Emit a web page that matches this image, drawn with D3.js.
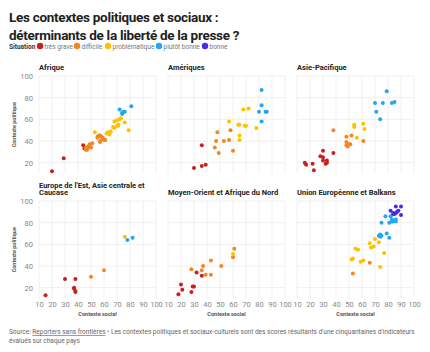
<!DOCTYPE html>
<html>
<head>
<meta charset="utf-8">
<script src="https://cdn.jsdelivr.net/npm/d3@7"></script>
<style>
  body { margin: 0; background: #fff; font-family: Roboto, "Noto Sans", sans-serif; }
  .tick text { fill: #888; }
</style>
</head>
<body>
<div id="chart"></div>
<script>
// situations (legend order) and their colours
var situations = ["très grave", "difficile", "problématique", "plutôt bonne", "bonne"];
var colors = ["#c8201f", "#f5861f", "#fcc200", "#22a7f0", "#4a2ae8"];

var regions = ["Afrique", "Amériques", "Asie-Pacifique",
  "Europe de l'Est, Asie centrale et Caucase", "Moyen-Orient et Afrique du Nord", "Union Européenne et Balkans"];

// [contexte social, contexte politique, situation index]
var afrique = [
  [20, 12, 0], [29, 24, 0], [44, 36, 0], [45, 33, 0],
  [46, 34, 1], [47, 32, 1], [48, 34, 1], [48, 35, 1], [49, 37, 1], [50, 34, 1], [51, 38, 1], [46, 32, 1],
  [55, 44, 1], [56, 45, 1], [57, 45, 1], [58, 44, 1], [59, 42, 1], [60, 41, 1], [61, 41, 1], [57, 40, 1], [57, 39, 1], [55, 43, 1], [59, 43, 1],
  [53, 48, 2], [62, 47, 2], [63, 48, 2], [64, 47, 2], [64, 46, 2], [65, 48, 2], [67, 53, 2], [68, 52, 2],
  [70, 54, 2], [71, 55, 2], [68, 58, 2], [70, 59, 2], [72, 60, 2], [73, 61, 2], [76, 57, 2], [71, 54, 2], [79, 50, 2], [65, 49, 2],
  [72, 69, 3], [74, 66, 3], [74, 65, 3], [75, 67, 3], [76, 67, 3], [81, 72, 3]
];
var ameriques = [
  [30, 15, 0], [36, 17, 0], [39, 18, 0], [36, 36, 0],
  [48, 48, 1], [47, 40, 1], [46, 34, 1], [49, 29, 1], [53, 40, 1], [57, 41, 1], [58, 50, 1], [60, 31, 1],
  [57, 58, 2], [64, 55, 2], [65, 55, 2], [65, 45, 2], [65, 41, 2], [69, 54, 2], [70, 54, 2], [68, 69, 2], [72, 70, 2], [78, 52, 2],
  [82, 87, 3], [82, 73, 3], [80, 67, 3], [85, 67, 3], [86, 67, 3], [82, 58, 3]
];
var asiePacifique = [
  [16, 20, 0], [17, 18, 0], [22, 19, 0], [23, 13, 0], [28, 26, 0], [30, 31, 0], [30, 25, 0], [30, 22, 0], [32, 19, 0], [33, 22, 0], [33, 20, 0], [38, 29, 0],
  [38, 50, 1], [48, 36, 1], [49, 35, 1], [50, 37, 1], [51, 37, 1], [48, 39, 1], [48, 44, 1], [52, 45, 1], [61, 40, 1],
  [54, 53, 2], [54, 55, 2], [56, 43, 2], [61, 56, 2], [62, 51, 2],
  [79, 86, 3], [70, 75, 3], [76, 75, 3], [83, 75, 3], [85, 76, 3], [71, 67, 3], [74, 60, 3]
];
var europeEst = [
  [15, 13, 0], [30, 28, 0], [38, 28, 0], [37, 20, 0], [37, 19, 0], [38, 17, 0], [38, 16, 0],
  [50, 30, 1], [60, 36, 1],
  [76, 67, 2],
  [78, 64, 3], [82, 66, 3]
];
var moyenOrient = [
  [18, 14, 0], [20, 23, 0], [21, 18, 0], [28, 16, 0], [29, 21, 0], [30, 21, 0], [32, 34, 0], [36, 31, 0],
  [28, 37, 1], [36, 36, 1], [37, 40, 1], [39, 32, 1], [43, 45, 1], [43, 32, 1], [51, 40, 1], [61, 56, 1], [60, 48, 1],
  [60, 51, 2]
];
var unionEuropeenne = [
  [53, 33, 1], [66, 43, 1],
  [55, 56, 2], [57, 55, 2], [52, 46, 2], [53, 47, 2], [59, 44, 2], [61, 45, 2], [66, 61, 2], [67, 57, 2], [69, 58, 2], [70, 65, 2], [73, 62, 2], [77, 52, 2], [74, 39, 2],
  [73, 68, 3], [74, 69, 3], [75, 68, 3], [74, 67, 3], [79, 70, 3], [81, 66, 3], [75, 80, 3], [78, 86, 3], [81, 80, 3], [82, 86, 3], [83, 83, 3], [83, 81, 3], [84, 81, 3], [86, 83, 3], [86, 81, 3],
  [82, 91, 4], [84, 89, 4], [85, 88, 4], [86, 95, 4], [87, 90, 4], [88, 91, 4], [90, 95, 4], [90, 87, 4], [84, 88, 4], [86, 89, 4]
];
var panelData = [afrique, ameriques, asiePacifique, europeEst, moyenOrient, unionEuropeenne];

var xTicks = [10, 20, 30, 40, 50, 60, 70, 80, 90, 100];
var yTicks = [20, 40, 60, 80, 100];

var W = 430, H = 352;
var svg = d3.select("#chart").append("svg")
  .attr("width", W).attr("height", H);

// title
svg.append("text").attr("x", 9).attr("y", 22)
  .style("font-size", "13.5px").style("font-weight", 700).style("fill", "#222")
  .style("letter-spacing", "-0.3px")
  .text("Les contextes politiques et sociaux :");
svg.append("text").attr("x", 9).attr("y", 40)
  .style("font-size", "13.5px").style("font-weight", 700).style("fill", "#222")
  .style("letter-spacing", "-0.3px")
  .text("déterminants de la liberté de la presse ?");

// legend
var legend = svg.append("g").attr("transform", "translate(9,46)");
legend.append("text").attr("x", 0).attr("y", 2.5)
  .style("font-size", "6.5px").style("font-weight", 700).style("fill", "#333")
  .text("Situation");
var lx = [31, 68, 99, 150, 196];
situations.forEach(function (s, i) {
  legend.append("circle").attr("cx", lx[i]).attr("cy", 0).attr("r", 3.2).style("fill", colors[i]);
  legend.append("text").attr("x", lx[i] + 4.5).attr("y", 2.5)
    .style("font-size", "6.5px").style("fill", "#777").text(s);
});

// panels
var pw = 117, gap = 12;
var lefts = [39, 39 + pw + gap, 39 + 2 * (pw + gap)];
var tops = [76, 201];
var ph = 97.5;

var x = d3.scaleLinear().domain([10, 100]).range([0, pw]);
var y = d3.scaleLinear().domain([10, 100]).range([ph, 0]);

panelData.forEach(function (data, p) {
  var col = p % 3, row = Math.floor(p / 3);
  var g = svg.append("g").attr("transform", "translate(" + lefts[col] + "," + tops[row] + ")");

  // grid
  g.append("g").selectAll("line").data(xTicks).enter().append("line")
    .attr("x1", function (d) { return x(d); }).attr("x2", function (d) { return x(d); })
    .attr("y1", 0).attr("y2", ph)
    .style("stroke", "#ececec").style("stroke-width", 0.8);
  g.append("g").selectAll("line").data(yTicks).enter().append("line")
    .attr("x1", 0).attr("x2", pw)
    .attr("y1", function (d) { return y(d); }).attr("y2", function (d) { return y(d); })
    .style("stroke", "#ececec").style("stroke-width", 0.8);

  // y tick labels on left column
  if (col === 0) {
    var ya = g.append("g").call(d3.axisLeft(y).tickValues(yTicks).tickSize(0).tickPadding(6));
    ya.select(".domain").remove();
    ya.selectAll("text").style("font-size", "7.5px").style("font-family", "Roboto, sans-serif");
    g.append("text")
      .attr("transform", "translate(-23," + (ph / 2) + ") rotate(-90)")
      .attr("text-anchor", "middle")
      .style("font-size", "5.5px").style("font-weight", 700).style("fill", "#555")
      .text("Contexte politique");
  }
  // x tick labels on bottom row
  if (row === 1) {
    var xa = g.append("g").attr("transform", "translate(0," + ph + ")")
      .call(d3.axisBottom(x).tickValues(xTicks).tickSize(0).tickPadding(3));
    xa.select(".domain").remove();
    xa.selectAll("text").style("font-size", "7.5px").style("font-family", "Roboto, sans-serif");
    g.append("text").attr("x", pw / 2).attr("y", ph + 17)
      .attr("text-anchor", "middle")
      .style("font-size", "5.5px").style("font-weight", 700).style("fill", "#555")
      .text("Contexte social");
  }

  // panel title
  var title = regions[p];
  var lines = (p === 3) ? ["Europe de l'Est, Asie centrale et", "Caucase"] : [title];
  lines.forEach(function (t, i) {
    g.append("text").attr("x", 0)
      .attr("y", -6 - (lines.length - 1 - i) * 7.5)
      .style("font-size", "7.5px").style("font-weight", 700).style("fill", "#222")
      .text(t);
  });

  // points
  g.append("g").selectAll("circle").data(data).enter().append("circle")
    .attr("cx", function (d) { return x(d[0]); })
    .attr("cy", function (d) { return y(d[1]); })
    .attr("r", 2)
    .style("fill", function (d) { return colors[d[2]]; });
});

// source
var src = svg.append("text").attr("x", 9).attr("y", 334)
  .style("font-size", "6.5px").style("fill", "#666");
src.append("tspan").text("Source: ");
src.append("tspan").style("text-decoration", "underline").text("Reporters sans frontières");
src.append("tspan").text(" • Les contextes politiques et sociaux-culturels sont des scores résultants d'une cinquantaines d'indicateurs");
svg.append("text").attr("x", 9).attr("y", 343)
  .style("font-size", "6.5px").style("fill", "#666")
  .text("évalués sur chaque pays");
</script>
</body>
</html>
